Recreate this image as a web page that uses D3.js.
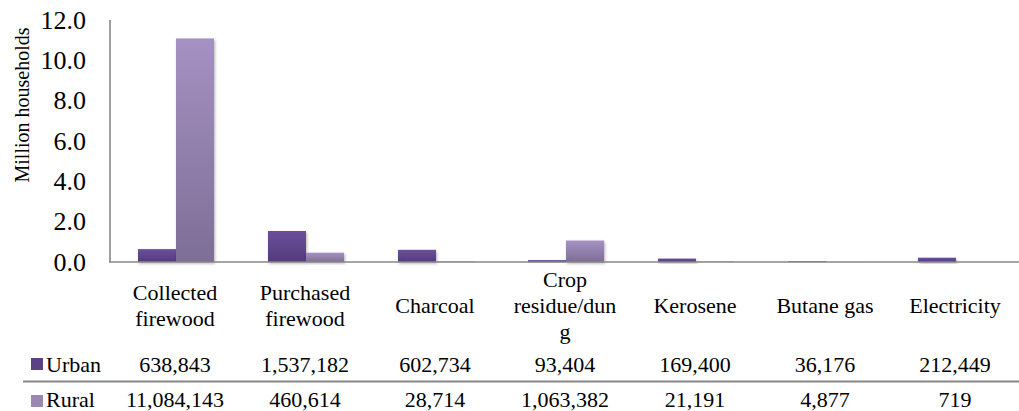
<!DOCTYPE html>
<html>
<head>
<meta charset="utf-8">
<script src="https://cdn.jsdelivr.net/npm/d3@7"></script>
<style>
  html, body { margin: 0; padding: 0; background: #fff; }
</style>
</head>
<body>
<svg id="chart" width="1019" height="411"></svg>
<script>
// ---- data ----
const categories = ["Collected firewood", "Purchased firewood", "Charcoal", "Crop residue/dung", "Kerosene", "Butane gas", "Electricity"];
const categoryLabelLines = [["Collected", "firewood"], ["Purchased", "firewood"], ["Charcoal"], ["Crop", "residue/dun", "g"], ["Kerosene"], ["Butane gas"], ["Electricity"]];
const seriesNames = ["Urban", "Rural"];
const urbanValues = [638843, 1537182, 602734, 93404, 169400, 36176, 212449];
const ruralValues = [11084143, 460614, 28714, 1063382, 21191, 4877, 719];
const yTicks = [0, 2, 4, 6, 8, 10, 12];
const yTitle = "Million households";

// ---- layout ----
const FONT = "Liberation Serif";
const svg = d3.select("#chart");
const plotLeft = 110, plotRight = 1020, plotTop = 20, plotBottom = 262;
const seriesValues = { Urban: urbanValues, Rural: ruralValues };

const x0 = d3.scaleBand().domain(categories).range([plotLeft, plotRight]).padding(0);
const x1 = d3.scaleBand().domain(seriesNames).range([28, 104]).padding(0);
const y = d3.scaleLinear().domain([0, 12]).range([plotBottom, plotTop]);

const defs = svg.append("defs");
function grad(id, c1, c2) {
  const g = defs.append("linearGradient").attr("id", id).attr("x1", 0).attr("y1", 0).attr("x2", 0).attr("y2", 1);
  g.append("stop").attr("offset", "0%").attr("stop-color", c1);
  g.append("stop").attr("offset", "100%").attr("stop-color", c2);
}
grad("gUrban", "#6c4f9c", "#523b7c");
grad("gRural", "#a591c2", "#7e6e96");
const f = defs.append("filter").attr("id", "shadow").attr("x", "-20%").attr("y", "-20%").attr("width", "150%").attr("height", "150%");
f.append("feDropShadow").attr("dx", 1).attr("dy", 1.5).attr("stdDeviation", 1.8).attr("flood-color", "#000").attr("flood-opacity", 0.3);

const fills = { Urban: "url(#gUrban)", Rural: "url(#gRural)" };
const legendColors = { Urban: "#5a4285", Rural: "#9a88b3" };

// bars
const groups = svg.append("g").selectAll("g").data(categories).join("g")
  .attr("transform", d => `translate(${x0(d)},0)`);
groups.selectAll("rect")
  .data((d, i) => seriesNames.map(s => ({ s, v: seriesValues[s][i] / 1e6 })))
  .join("rect")
  .attr("x", d => x1(d.s))
  .attr("width", x1.bandwidth())
  .attr("y", d => y(d.v))
  .attr("height", d => plotBottom - y(d.v))
  .attr("fill", d => fills[d.s])
  .attr("filter", "url(#shadow)");

// axes lines
svg.append("line").attr("x1", plotLeft).attr("x2", plotLeft).attr("y1", plotTop).attr("y2", plotBottom)
  .attr("stroke", "#878787").attr("stroke-width", 1.6);
svg.append("line").attr("x1", plotLeft - 1).attr("x2", 1019).attr("y1", plotBottom).attr("y2", plotBottom)
  .attr("stroke", "#878787").attr("stroke-width", 1.6);

// y axis labels
const yAxis = d3.axisLeft(y).tickValues(yTicks).tickFormat(d3.format(".1f")).tickSize(0).tickPadding(24);
const ya = svg.append("g").attr("transform", `translate(${plotLeft},0)`).call(yAxis);
ya.select(".domain").remove();
ya.attr("font-family", FONT).attr("font-size", 26);
ya.selectAll("text").attr("font-size", 26).attr("fill", "#000").attr("font-family", FONT);

// y title
svg.append("text").attr("transform", "translate(29,105) rotate(-90)").attr("font-family", FONT)
  .attr("text-anchor", "middle").attr("font-size", 20).attr("fill", "#000").text(yTitle);

// category labels
const lineH = 26, midBase = 313;
const catG = svg.append("g");
categories.forEach((c, i) => {
  const lines = categoryLabelLines[i];
  const first = midBase - (lines.length - 1) * lineH / 2;
  const t = catG.append("text").attr("text-anchor", "middle").attr("font-size", 22).attr("fill", "#000").attr("font-family", FONT);
  lines.forEach((ln, j) => {
    t.append("tspan").attr("x", x0(c) + x0.bandwidth() / 2).attr("y", first + j * lineH).text(ln);
  });
});

// data table
const fmt = d3.format(",");
const rowBase = { Urban: 372, Rural: 407 };
const rowSq = { Urban: 358, Rural: 395 };
seriesNames.forEach(s => {
  svg.append("rect").attr("x", 31).attr("y", rowSq[s]).attr("width", 12).attr("height", 12)
    .attr("fill", legendColors[s]);
  svg.append("text").attr("x", 46).attr("y", rowBase[s]).attr("font-size", 22).attr("fill", "#000").attr("font-family", FONT).text(s);
  svg.append("g").selectAll("text").data(categories).join("text")
    .attr("x", d => x0(d) + x0.bandwidth() / 2)
    .attr("y", rowBase[s])
    .attr("text-anchor", "middle").attr("font-size", 22).attr("fill", "#000").attr("font-family", FONT)
    .text((d, i) => fmt(seriesValues[s][i]));
});
svg.append("line").attr("x1", 23).attr("x2", 1019).attr("y1", 381.5).attr("y2", 381.5)
  .attr("stroke", "#878787").attr("stroke-width", 2);
</script>
</body>
</html>
